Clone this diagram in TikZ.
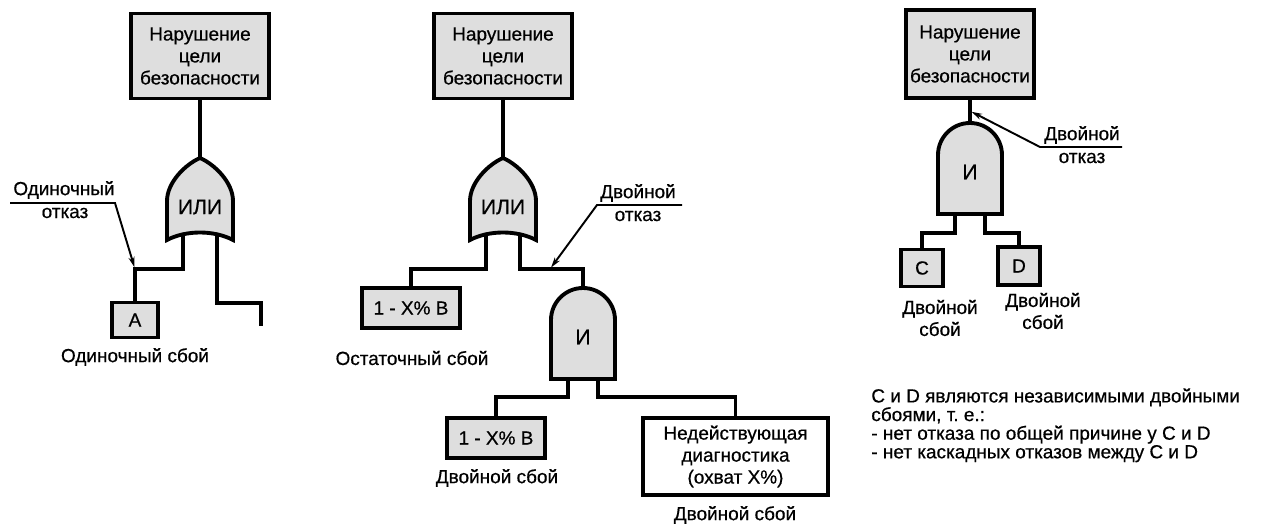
\documentclass[tikz,border=0pt]{standalone}
\usepackage{fontspec}
\setmainfont{Liberation Sans}[FakeBold=0.6]
\usetikzlibrary{arrows.meta}

\def\px{0.02cm}
\newcommand{\figfont}{\fontsize{10.8pt}{12.5pt}\selectfont}
\newcommand{\notefont}{\fontsize{10.8pt}{10.6pt}\selectfont}
\definecolor{boxgray}{RGB}{222,222,222}

\tikzset{
  pics/orgate/.style={code={
    \draw [gate] (0,0) .. controls (-14,6) and (-33,24) .. (-33,43) -- (-33,82)
      .. controls (-14,72) and (14,72) .. (33,82) -- (33,43)
      .. controls (33,24) and (14,6) .. (0,0) -- cycle;
    \coordinate (-top) at (0,0);
    \coordinate (-in1) at (-17,77);
    \coordinate (-in2) at (17,77);
    \node [gatetext] (-text) at (0,49) {ИЛИ};
  }},
  pics/andgate/.style={code={
    \draw [gate] (-32,91) -- (-32,32) arc (180:360:32) -- (32,91) -- cycle;
    \coordinate (-top) at (0,0);
    \coordinate (-in1) at (-15,91);
    \coordinate (-in2) at (15,91);
    \node [gatetext] (-text) at (0,49) {И};
  }}
}

\begin{document}
\begin{tikzpicture}[x=\px, y=-\px, >={Stealth[length=6pt,width=3.4pt]},
    wire/.style={line width=2.2pt},
    gate/.style={line width=2.2pt, fill=boxgray},
    gatetext/.style={inner sep=0pt, font=\fontsize{12pt}{14pt}\selectfont},
    event/.style={draw, line width=2.1pt, fill=boxgray, align=center,
                  inner sep=0pt, font=\figfont},
    plainevent/.style={event, fill=white},
    caption/.style={inner sep=0pt, align=center, font=\figfont},
    pointer/.style={line width=1.1pt, ->, shorten >=1pt}
  ]
  \useasboundingbox (0,0) rectangle (1262,524);

  % single failure
  \node [event, minimum width=138*\px, minimum height=85*\px] (top1) at (200,56)
        {Нарушение\\цели\\безопасности};
  \pic (or1) at (200,158) {orgate};
  \node [event, minimum width=46*\px, minimum height=35*\px] (evA) at (135,320) {A};
  \node [caption] (capA) at (135,357) {Одиночный сбой};
  \coordinate (jA) at (135,269);
  \coordinate (jB) at (261,303);
  \coordinate (openend) at (261,326);
  \draw [wire] (top1.south) -- (or1-top);
  \draw [wire] (or1-in1) |- (jA) -- (evA.north);
  \draw [wire] (or1-in2) |- (jB) -- (openend);
  \node [caption] (n1a) at (64,190) {Одиночный};
  \node [caption] (n1b) at (65,213) {отказ};
  \coordinate (u1a) at (10,203);
  \coordinate (u1b) at (115,203);
  \draw [pointer] (u1a) -- (u1b) -- (jA);

  % residual and double failure
  \node [event, minimum width=138*\px, minimum height=85*\px] (top2) at (503,56)
        {Нарушение\\цели\\безопасности};
  \pic (or2) at (503,158) {orgate};
  \node [event, minimum width=98*\px, minimum height=40*\px] (evR) at (411,308) {1 - X\% B};
  \node [caption] (capR) at (412,358) {Остаточный сбой};
  \pic (and2) at (583,288) {andgate};
  \node [event, minimum width=98*\px, minimum height=40*\px] (evB) at (496,438) {1 - X\% B};
  \node [caption] (capB) at (497,478) {Двойной сбой};
  \node [plainevent, minimum width=185*\px, minimum height=77*\px] (evDiag) at (735.5,456.5)
        {Недействующая\\диагностика\\(охват X\%)};
  \node [caption] (capDiag) at (735,515) {Двойной сбой};
  \coordinate (jC) at (411,269);
  \coordinate (jD) at (583,269);
  \coordinate (jE) at (550,269);
  \coordinate (jF) at (496,397);
  \coordinate (jG) at (735.5,397);
  \draw [wire] (top2.south) -- (or2-top);
  \draw [wire] (or2-in1) |- (jC) -- (evR.north);
  \draw [wire] (or2-in2) |- (jD) -- (and2-top);
  \draw [wire] (and2-in1) |- (jF) -- (evB.north);
  \draw [wire] (and2-in2) |- (jG) -- (evDiag.north);
  \node [caption] (n2a) at (638,193) {Двойной};
  \node [caption] (n2b) at (638,216) {отказ};
  \coordinate (u2a) at (682,205);
  \coordinate (u2b) at (597,205);
  \draw [pointer] (u2a) -- (u2b) -- (jE);

  % independent double failures
  \node [event, minimum width=128*\px, minimum height=88*\px] (top3) at (970,54)
        {Нарушение\\цели\\безопасности};
  \pic (and3) at (970,123) {andgate};
  \node [event, minimum width=42*\px, minimum height=37*\px] (evC) at (922,268) {C};
  \node [event, minimum width=42*\px, minimum height=38*\px] (evD) at (1019,266) {D};
  \node [caption] (capC) at (940,318) {Двойной\\сбой};
  \node [caption] (capD) at (1043,311) {Двойной\\сбой};
  \coordinate (jH) at (922,233);
  \coordinate (jI) at (1019,233);
  \coordinate (jJ) at (970,111);
  \draw [wire] (top3.south) -- (and3-top);
  \draw [wire] (and3-in1) |- (jH) -- (evC.north);
  \draw [wire] (and3-in2) |- (jI) -- (evD.north);
  \node [caption] (n3a) at (1082,135) {Двойной};
  \node [caption] (n3b) at (1082,158) {отказ};
  \coordinate (u3a) at (1122,147);
  \coordinate (u3b) at (1040,147);
  \draw [pointer] (u3a) -- (u3b) -- (jJ);

  \node [inner sep=0pt, align=left, anchor=north west, font=\notefont] (note) at (871,388)
        {C и D являются независимыми двойными\\сбоями, т.~е.:\\- нет отказа по общей причине у C и D\\- нет каскадных отказов между C и D};
\end{tikzpicture}
\end{document}
